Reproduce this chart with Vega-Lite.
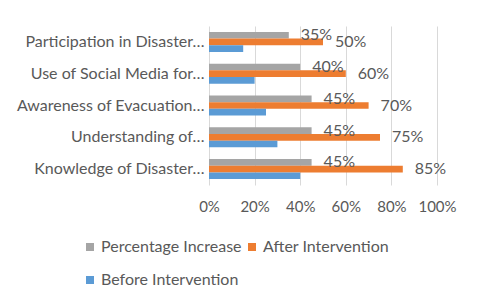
{
  "$schema": "https://vega.github.io/schema/vega-lite/v6.json",
  "width": 228,
  "height": 159,
  "autosize": "none",
  "padding": {"left": 209, "top": 26, "right": 43, "bottom": 122},
  "background": "white",
  "config": {
    "view": {"stroke": null},
    "font": "Lato",
    "axis": {"labelFont": "Lato", "labelColor": "#595959", "labelFontSize": 16}
  },
  "data": {
    "values": [
      {"category": "Participation in Disaster…", "series": "Percentage Increase", "value": 0.35},
      {"category": "Participation in Disaster…", "series": "After Intervention", "value": 0.50},
      {"category": "Participation in Disaster…", "series": "Before Intervention", "value": 0.15},
      {"category": "Use of Social Media for…", "series": "Percentage Increase", "value": 0.40},
      {"category": "Use of Social Media for…", "series": "After Intervention", "value": 0.60},
      {"category": "Use of Social Media for…", "series": "Before Intervention", "value": 0.20},
      {"category": "Awareness of Evacuation…", "series": "Percentage Increase", "value": 0.45},
      {"category": "Awareness of Evacuation…", "series": "After Intervention", "value": 0.70},
      {"category": "Awareness of Evacuation…", "series": "Before Intervention", "value": 0.25},
      {"category": "Understanding of…", "series": "Percentage Increase", "value": 0.45},
      {"category": "Understanding of…", "series": "After Intervention", "value": 0.75},
      {"category": "Understanding of…", "series": "Before Intervention", "value": 0.30},
      {"category": "Knowledge of Disaster…", "series": "Percentage Increase", "value": 0.45},
      {"category": "Knowledge of Disaster…", "series": "After Intervention", "value": 0.85},
      {"category": "Knowledge of Disaster…", "series": "Before Intervention", "value": 0.40}
    ]
  },
  "encoding": {
    "y": {
      "field": "category",
      "type": "nominal",
      "sort": null,
      "scale": {"paddingInner": 0.37, "paddingOuter": 0.185},
      "axis": {"title": null, "domain": false, "ticks": false, "labelPadding": 5, "labelLimit": 300, "grid": false}
    },
    "x": {
      "field": "value",
      "type": "quantitative",
      "scale": {"domain": [0, 1]},
      "axis": {"title": null, "format": ".0%", "values": [0, 0.2, 0.4, 0.6, 0.8, 1], "labelOverlap": false, "labelBound": false, "labelFlush": false, "labelFontSize": 15, "domain": false, "ticks": false, "grid": true, "gridColor": "#d9d9d9", "gridWidth": 1, "labelPadding": 14}
    },
    "yOffset": {
      "field": "series",
      "type": "nominal",
      "sort": ["Percentage Increase", "After Intervention", "Before Intervention"],
      "scale": {"paddingInner": 0, "paddingOuter": 0}
    }
  },
  "layer": [
    {
      "mark": {"type": "bar"},
      "encoding": {
        "color": {
          "field": "series",
          "type": "nominal",
          "scale": {
            "domain": ["Percentage Increase", "After Intervention", "Before Intervention"],
            "range": ["#A5A5A5", "#ED7D31", "#5B9BD5"]
          },
          "legend": {
            "title": null,
            "orient": "none",
            "legendX": -127,
            "legendY": 213,
            "direction": "horizontal",
            "columns": 2,
            "padding": 0,
            "columnPadding": 2,
            "rowPadding": 17,
            "symbolType": "square",
            "symbolSize": 64,
            "symbolStrokeWidth": 0,
            "labelFont": "Lato",
            "labelFontSize": 16,
            "labelColor": "#595959",
            "labelOffset": 3,
            "labelLimit": 300
          }
        }
      }
    },
    {
      "transform": [{"filter": "datum.series !== 'Before Intervention'"}],
      "mark": {"type": "text", "align": "left", "baseline": "middle", "dx": 12, "font": "Lato", "fontSize": 16, "color": "#595959"},
      "encoding": {
        "text": {"field": "value", "type": "quantitative", "format": ".0%"}
      }
    }
  ]
}
